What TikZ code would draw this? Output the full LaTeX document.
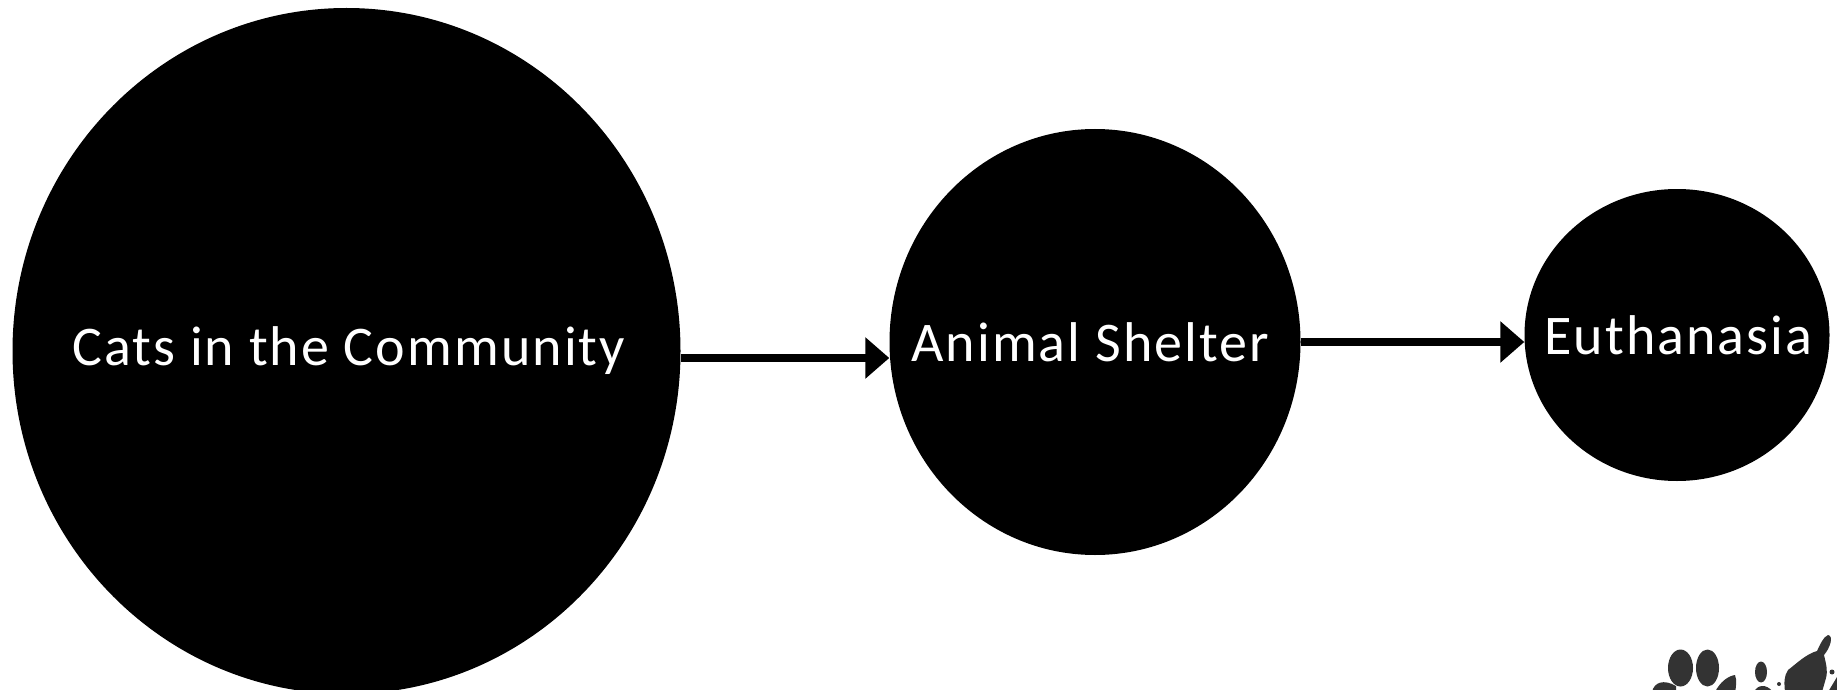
\documentclass[tikz,border=0pt]{standalone}
\usepackage{fontspec}
\setmainfont{Carlito}
\newfontfamily\labelfont[LetterSpace=3.7]{Carlito}
\usetikzlibrary{shapes.geometric,arrows.meta}
\definecolor{pawgrey}{HTML}{333333}
\tikzset{
  stage/.style={ellipse,fill=black,draw=none,text=white,inner sep=0pt,font=\labelfont\fontsize{56}{56}\selectfont},
  flow/.style={line width=8pt,-{Triangle[length=24pt,width=40pt]}},
  pawpart/.style={fill=pawgrey,draw=none}
}
\begin{document}
\begin{tikzpicture}[x=1pt,y=-1pt]
\clip (0,0) rectangle (1837,690);
\fill[white] (0,0) rectangle (1837,690);
\node[stage,minimum width=668pt,minimum height=686pt] (community) at (346.5,351) {\makebox[0pt]{\hspace{4.6pt}Cats in the Community}};
\node[stage,minimum width=411pt,minimum height=426pt] (shelter) at (1095,342) {\makebox[0pt]{\hspace{-9.4pt}Animal Shelter}};
\node[stage,minimum width=305pt,minimum height=292pt] (euth) at (1677,335) {\makebox[0pt]{\hspace{3pt}Euthanasia}};
\draw[flow] (community.east |- 0,358) -- (shelter.west |- 0,358);
\draw[flow] (shelter.east |- 0,342) -- (euth.west |- 0,342);
% paw print
\fill[pawpart] (1680.5,668) ellipse (12.5 and 18.5);
\fill[pawpart] (1707.5,668) ellipse (11.5 and 18.5);
\fill[pawpart] (1761,672) ellipse (6 and 10.5);
\fill[pawpart] (1652,692) .. controls (1654,682) and (1664,679) .. (1676,686) -- (1676,692) -- cycle;
\fill[pawpart] (1715,692) .. controls (1720,682) and (1728,676) .. (1735,675) .. controls (1737,680) and (1736,688) .. (1735,692) -- cycle;
\fill[pawpart] (1754,692) .. controls (1757,685) and (1766,683) .. (1773,692) -- cycle;
\fill[pawpart] (1785,692) .. controls (1784,682) and (1784,676) .. (1788,670) .. controls (1796,664) and (1806,654) .. (1817,651) .. controls (1820,645) and (1823,637) .. (1828,635) .. controls (1834,636) and (1830,648) .. (1824,655) .. controls (1826,664) and (1828,670) .. (1826,678) -- (1822,692) -- cycle;
\fill[pawpart] (1828,692) -- (1837,677) -- (1837,692) -- cycle;
\fill[pawpart] (1832,672) circle (2.5);
\fill[pawpart] (1779,684) circle (2);
\end{tikzpicture}
\end{document}
